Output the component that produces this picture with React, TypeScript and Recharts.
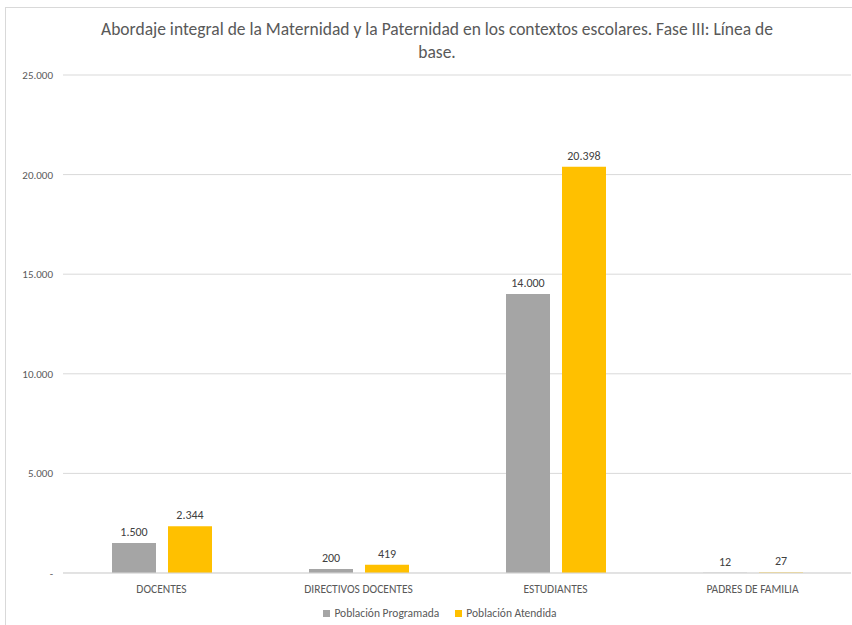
import { BarChart, Bar, XAxis, YAxis, CartesianGrid, LabelList } from "recharts";

const categories = ["DOCENTES", "DIRECTIVOS DOCENTES", "ESTUDIANTES", "PADRES DE FAMILIA"];
const programada = [1500, 200, 14000, 12];
const atendida = [2344, 419, 20398, 27];
const yTicks = [0, 5000, 10000, 15000, 20000, 25000];

const data = categories.map((name, i) => ({
  name,
  programada: programada[i],
  atendida: atendida[i],
}));

const FONT = "Calibri, Carlito, Lato, sans-serif";

const fmt = (v: number) => (v === 0 ? "-" : v.toLocaleString("de-DE"));

const legendItems = [
  { label: "Población Programada", color: "#A5A5A5" },
  { label: "Población Atendida", color: "#FFC000" },
];

export default function App() {
  return (
    <div style={{ position: "absolute", left: 0, top: 0, width: 852, height: 625, overflow: "hidden", background: "#fff" }}>
      <div style={{ position: "absolute", left: 5, top: 7, width: 900, height: 700, border: "1px solid #d9d9d9" }} />
      <div
        style={{
          position: "absolute",
          left: 80,
          top: 18,
          width: 714,
          textAlign: "center",
          fontFamily: FONT,
          fontSize: 17.5,
          lineHeight: "23px",
          color: "#595959",
        }}
      >
        Abordaje integral de la Maternidad y la Paternidad en los contextos escolares. Fase III: Línea de
        <br />
        base.
      </div>
      <BarChart
        width={852}
        height={625}
        data={data}
        margin={{ top: 75, right: 1, bottom: 22, left: 0 }}
        barGap={12}
        barSize={44}
        style={{ position: "absolute", left: 0, top: 0 }}
      >
        <CartesianGrid vertical={false} stroke="#d9d9d9" />
        <XAxis
          dataKey="name"
          height={30}
          axisLine={{ stroke: "#d9d9d9" }}
          tickLine={false}
          tick={{ fontFamily: FONT, fontSize: 11.5, fill: "#595959" }}
          tickMargin={6}
        />
        <YAxis
          width={63}
          domain={[0, 25000]}
          ticks={yTicks}
          tickFormatter={fmt}
          axisLine={false}
          tickLine={false}
          tick={{ fontFamily: FONT, fontSize: 11, fill: "#595959" }}
          tickMargin={4}
        />
        <Bar dataKey="programada" name="Población Programada" fill="#A5A5A5" isAnimationActive={false}>
          <LabelList dataKey="programada" position="top" offset={7} formatter={fmt} style={{ fontFamily: FONT, fontSize: 12, fill: "#404040" }} />
        </Bar>
        <Bar dataKey="atendida" name="Población Atendida" fill="#FFC000" isAnimationActive={false}>
          <LabelList dataKey="atendida" position="top" offset={7} formatter={fmt} style={{ fontFamily: FONT, fontSize: 12, fill: "#404040" }} />
        </Bar>
      </BarChart>
      <div
        style={{
          position: "absolute",
          top: 605,
          left: 0,
          width: 880,
          display: "flex",
          justifyContent: "center",
          gap: 16,
          fontFamily: FONT,
          fontSize: 11.5,
          lineHeight: "16px",
          color: "#595959",
        }}
      >
        {legendItems.map((it) => (
          <div key={it.label} style={{ display: "flex", alignItems: "center", gap: 4 }}>
            <span style={{ width: 7, height: 7, background: it.color, display: "inline-block" }} />
            <span>{it.label}</span>
          </div>
        ))}
      </div>
    </div>
  );
}
